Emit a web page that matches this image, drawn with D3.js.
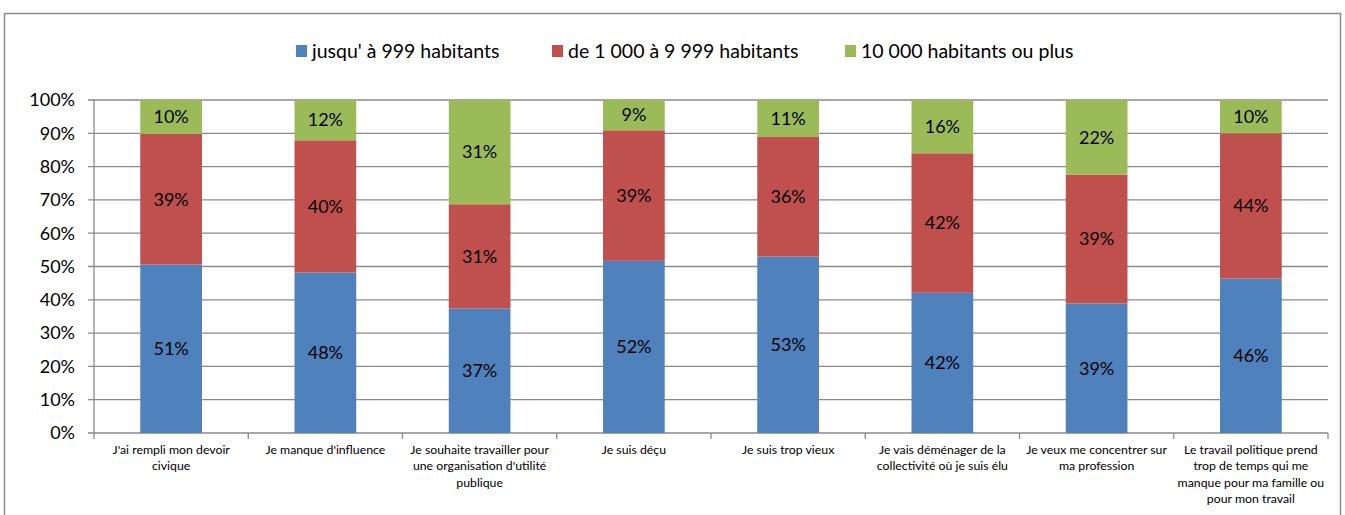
<!DOCTYPE html>
<html>
<head>
<meta charset="utf-8">
<script src="https://cdn.jsdelivr.net/npm/d3@7"></script>
<style>
  body { margin: 0; background: #fff; }
  text { font-family: Lato, "Open Sans", sans-serif; fill: #000; }
</style>
</head>
<body>
<div class="mainContainer"></div>
<script>
// categories (line breaks as in the original labels)
const categories = [
  "J'ai rempli mon devoir\ncivique",
  "Je manque d'influence",
  "Je souhaite travailler pour\nune organisation d'utilité\npublique",
  "Je suis déçu",
  "Je suis trop vieux",
  "Je vais déménager de la\ncollectivité où je suis élu",
  "Je veux me concentrer sur\nma profession",
  "Le travail politique prend\ntrop de temps qui me\nmanque pour ma famille ou\npour mon travail"
];
const seriesNames = ["jusqu' à 999 habitants", "de 1 000 à 9 999 habitants", "10 000 habitants ou plus"];
const small  = [50.6, 48.2, 37.4, 51.7, 53.0, 42.1, 38.9, 46.4];
const medium = [39.2, 39.7, 31.3, 39.2, 35.9, 41.9, 38.7, 43.6];
const large  = [10.2, 12.1, 31.3,  9.1, 11.1, 16.0, 22.4, 10.0];
const yTicks = [0, 10, 20, 30, 40, 50, 60, 70, 80, 90, 100];
const colors = ["#4f81bd", "#c0504d", "#9bbb59"];

const W = 1345, H = 515;
const svg = d3.select('.mainContainer')
  .append('svg')
  .attr('width', W)
  .attr('height', H);

// chart frame
svg.append('rect')
  .attr('x', 4.5).attr('y', 13.5)
  .attr('width', 1336).attr('height', 510)
  .attr('fill', 'none')
  .attr('stroke', '#8c8c8c')
  .attr('stroke-width', 1.5);

const pLeft = 94, pRight = 1328, pTop = 100, pBottom = 433;

const x = d3.scaleBand()
  .domain(categories)
  .range([pLeft, pRight])
  .paddingInner(0.6)
  .paddingOuter(0.3);

const y = d3.scaleLinear()
  .domain([0, 100])
  .range([pBottom, pTop]);

const data = categories.map((c, i) => ({cat: c, s0: small[i], s1: medium[i], s2: large[i]}));
const stack = d3.stack().keys(['s0', 's1', 's2']);
const stacked = stack(data);

// gridlines
svg.append('g')
  .selectAll('line')
  .data(yTicks)
  .enter()
  .append('line')
  .attr('x1', pLeft - 6).attr('x2', pRight)
  .attr('y1', d => y(d)).attr('y2', d => y(d))
  .attr('stroke', '#8a8a8a')
  .attr('stroke-width', 1.3);

// y axis line
svg.append('line')
  .attr('x1', pLeft).attr('x2', pLeft)
  .attr('y1', pTop).attr('y2', pBottom)
  .attr('stroke', '#8a8a8a').attr('stroke-width', 1.3);

svg.append('g')
  .selectAll('text')
  .data(yTicks)
  .enter()
  .append('text')
  .attr('x', pLeft - 19)
  .attr('y', d => y(d))
  .attr('dy', '0.35em')
  .attr('text-anchor', 'end')
  .attr('font-size', 18)
  .text(d => d + '%');

// x axis tick marks at category boundaries
const step = x.step();
const bounds = d3.range(categories.length + 1).map(i => pLeft + i * step);
svg.append('g')
  .selectAll('line')
  .data(bounds)
  .enter()
  .append('line')
  .attr('x1', d => d).attr('x2', d => d)
  .attr('y1', pBottom).attr('y2', pBottom + 6)
  .attr('stroke', '#8a8a8a').attr('stroke-width', 1.3);

// bars
const layers = svg.append('g')
  .selectAll('g')
  .data(stacked)
  .enter()
  .append('g')
  .attr('fill', (d, i) => colors[i]);

layers.selectAll('rect')
  .data(d => d)
  .enter()
  .append('rect')
  .attr('x', d => x(d.data.cat))
  .attr('width', x.bandwidth())
  .attr('y', d => y(d[1]))
  .attr('height', d => y(d[0]) - y(d[1]));

layers.selectAll('text')
  .data(d => d)
  .enter()
  .append('text')
  .attr('x', d => x(d.data.cat) + x.bandwidth() / 2)
  .attr('y', d => y((d[0] + d[1]) / 2))
  .attr('dy', '0.35em')
  .attr('text-anchor', 'middle')
  .attr('font-size', 18)
  .text(d => Math.round(d[1] - d[0]) + '%');

// category labels
const catLabels = svg.append('g')
  .selectAll('text')
  .data(categories)
  .enter()
  .append('text')
  .attr('x', d => x(d) + x.bandwidth() / 2)
  .attr('y', 454)
  .attr('text-anchor', 'middle')
  .attr('font-size', 12.3);

catLabels.selectAll('tspan')
  .data(d => d.split('\n'))
  .enter()
  .append('tspan')
  .attr('x', function() { return d3.select(this.parentNode).attr('x'); })
  .attr('dy', (d, i) => i === 0 ? 0 : 16.3)
  .text(d => d);

// legend
const legendX = [296, 552, 845];
const legend = svg.append('g')
  .selectAll('g')
  .data(seriesNames)
  .enter()
  .append('g')
  .attr('transform', (d, i) => `translate(${legendX[i]},51)`);

legend.append('rect')
  .attr('x', 0).attr('y', -6)
  .attr('width', 11).attr('height', 12)
  .attr('fill', (d, i) => colors[i]);

legend.append('text')
  .attr('x', 16)
  .attr('dy', '0.35em')
  .attr('font-size', 19.5)
  .text(d => d);
</script>
</body>
</html>
